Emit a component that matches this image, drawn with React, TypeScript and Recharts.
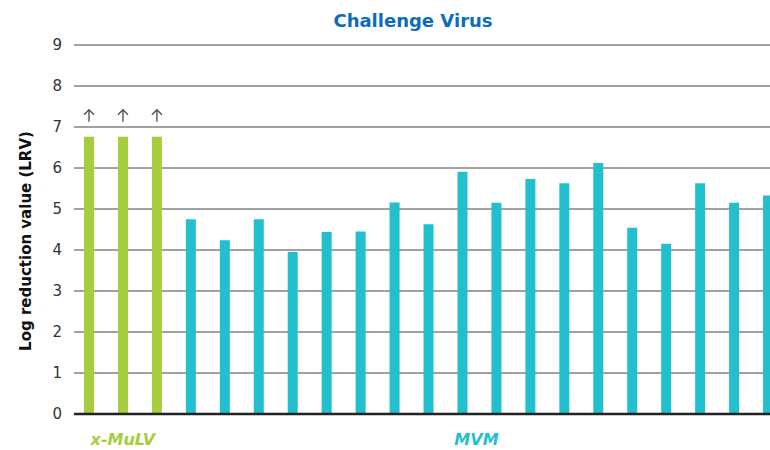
import React from 'react';
import { BarChart, Bar, Cell, XAxis, YAxis, CartesianGrid, LabelList } from 'recharts';

// LRV per run
const mulvValues = [6.76, 6.76, 6.76];
const mvmValues = [4.75, 4.24, 4.75, 3.95, 4.44, 4.45, 5.16, 4.63, 5.91, 5.15, 5.73, 5.63, 6.12, 4.54, 4.15, 5.63, 5.15, 5.33];
const mulvRuns = mulvValues.map((_, i) => `x-MuLV ${i + 1}`);
const mvmRuns = mvmValues.map((_, i) => `MVM ${i + 1}`);
const yTicks = [0, 1, 2, 3, 4, 5, 6, 7, 8, 9];

const GREEN = '#a6cd3e';
const CYAN = '#22bfce';
const FONT = '"DejaVu Sans", Verdana, sans-serif';

const data = [
  ...mulvRuns.map((name, i) => ({ name, group: 'x-MuLV', lrv: mulvValues[i] })),
  ...mvmRuns.map((name, i) => ({ name, group: 'MVM', lrv: mvmValues[i] })),
];

// group label goes under the middle of its bars
const groupTick = (props: any) => {
  const { x, y, index } = props;
  const mid = mulvValues.length + (mvmValues.length - 1) / 2;
  let label = '';
  let color = GREEN;
  let dx = 0;
  if (index === Math.floor((mulvValues.length - 1) / 2)) {
    label = 'x-MuLV';
  } else if (index === Math.floor(mid)) {
    label = 'MVM';
    color = CYAN;
    dx = 14;
  }
  if (!label) return <g />;
  return (
    <text x={x + dx} y={y + 31} textAnchor="middle" fill={color} fontFamily={FONT}
      fontSize={16} fontWeight="bold" fontStyle="italic">
      {label}
    </text>
  );
};

// "more than" arrow above the capped x-MuLV bars
const upArrow = (props: any) => {
  const { x, y, width, index } = props;
  if (index >= mulvValues.length) return null;
  const cx = x + width / 2;
  const top = y - 27;
  return (
    <path d={`M${cx},${top + 12} L${cx},${top} M${cx - 5},${top + 5} L${cx},${top} L${cx + 5},${top + 5}`}
      stroke="#555" strokeWidth={1.4} fill="none" />
  );
};

const App: React.FC = () => {
  return (
    <div style={{ position: 'fixed', left: 0, top: 0, width: 770, height: 450, overflow: 'hidden', background: '#fff' }}>
      <BarChart width={800} height={450} data={data} margin={{ top: 45, right: 15, bottom: 0, left: 0 }}>
        <CartesianGrid horizontal vertical={false} stroke="#444" />
        <XAxis dataKey="name" interval={0} height={36} tickLine={false} tickSize={0} tickMargin={0}
          axisLine={{ stroke: '#222', strokeWidth: 2.5 }} tick={groupTick} padding={{ left: -2, right: 0 }} />
        <YAxis domain={[0, 9]} ticks={yTicks} width={74} axisLine={false} tickLine={false}
          tickSize={0} tickMargin={12} interval={0}
          tick={{ fill: '#333', fontSize: 15, fontFamily: FONT }} />
        <Bar dataKey="lrv" barSize={10} isAnimationActive={false}>
          {data.map((d, i) => (
            <Cell key={`c-${i}`} fill={d.group === 'MVM' ? CYAN : GREEN} />
          ))}
          <LabelList dataKey="lrv" content={upArrow} />
        </Bar>
      </BarChart>
      <svg width={770} height={450} style={{ position: 'absolute', left: 0, top: 0, pointerEvents: 'none' }}>
        <text x={413} y={27} textAnchor="middle" fill="#0b6db8" fontFamily={FONT} fontSize={18} fontWeight="bold">
          Challenge Virus
        </text>
        <text transform="translate(31,241) rotate(-90)" textAnchor="middle" fill="#111" fontFamily={FONT}
          fontSize={15} fontWeight="bold">
          Log reduction value (LRV)
        </text>
      </svg>
    </div>
  );
};

export default App;
